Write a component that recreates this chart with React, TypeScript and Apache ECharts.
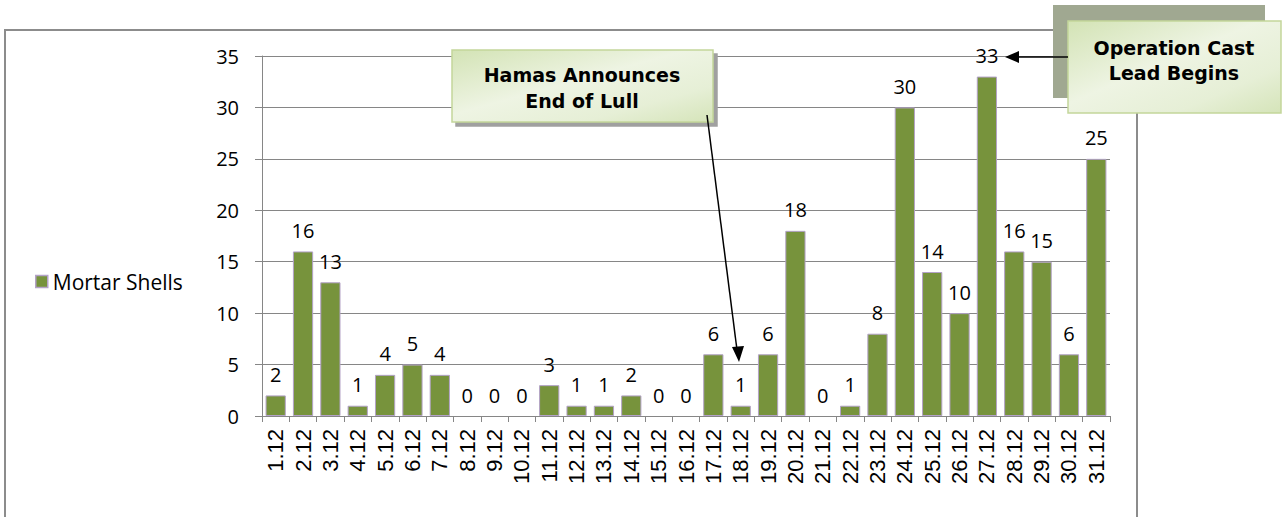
import React, { useEffect, useRef } from "react";
import * as echarts from "echarts";

const categories = ["1.12","2.12","3.12","4.12","5.12","6.12","7.12","8.12","9.12","10.12","11.12","12.12","13.12","14.12","15.12","16.12","17.12","18.12","19.12","20.12","21.12","22.12","23.12","24.12","25.12","26.12","27.12","28.12","29.12","30.12","31.12"];
const mortarShells = [2,16,13,1,4,5,4,0,0,0,3,1,1,2,0,0,6,1,6,18,0,1,8,30,14,10,33,16,15,6,25];
const seriesName = "Mortar Shells";
const callout1 = "Hamas Announces\nEnd of Lull";
const callout2 = "Operation Cast\nLead Begins";

const calloutFill = {
  type: "linear", x: 0, y: 0, x2: 1, y2: 1,
  colorStops: [
    { offset: 0, color: "#D3E3B5" },
    { offset: 0.45, color: "#EEF4E3" },
    { offset: 0.75, color: "#E6EFD6" },
    { offset: 1, color: "#D5E4B9" },
  ],
};

export default function App() {
  const ref = useRef<HTMLDivElement>(null);
  useEffect(() => {
    const chart = echarts.init(ref.current!, null, { renderer: "svg" });
    const textFont = "'Open Sans', sans-serif";
    const calloutFont = "'DejaVu Sans', Verdana, sans-serif";
    const barData = mortarShells.map((v) =>
      v === 0 ? { value: v, itemStyle: { borderWidth: 0, color: "transparent" } } : v
    );
    chart.setOption({
      animation: false,
      backgroundColor: "#ffffff",
      grid: { left: 262, right: 176, top: 56, bottom: 101, containLabel: false },
      legend: {
        orient: "vertical",
        left: 30,
        top: 266,
        itemWidth: 12,
        itemHeight: 12,
        itemGap: 6,
        icon: "rect",
        data: [{ name: seriesName, itemStyle: { borderColor: "#B3A2C7", borderWidth: 1.5 } }],
        textStyle: { fontFamily: textFont, fontSize: 21, color: "#000" },
      },
      xAxis: {
        type: "category",
        data: categories,
        boundaryGap: true,
        axisLine: { lineStyle: { color: "#868686", width: 1 } },
        axisTick: { show: true, alignWithLabel: false, length: 6, lineStyle: { color: "#868686" } },
        axisLabel: {
          rotate: 90,
          interval: 0,
          margin: 13,
          fontFamily: "'Liberation Sans', Arial, sans-serif",
          fontSize: 22,
          color: "#000",
        },
      },
      yAxis: {
        type: "value",
        min: 0,
        max: 35,
        interval: 5,
        axisLine: { show: true, lineStyle: { color: "#868686" } },
        axisTick: { show: true, length: 7, lineStyle: { color: "#868686" } },
        splitLine: { lineStyle: { color: "#868686", width: 1 } },
        axisLabel: { fontFamily: textFont, fontSize: 20, color: "#000", margin: 23 },
      },
      series: [
        {
          name: seriesName,
          type: "bar",
          data: barData,
          barCategoryGap: "26%",
          itemStyle: { color: "#77933C", borderColor: "#B3A2C7", borderWidth: 1 },
          label: {
            show: true,
            position: "top",
            distance: 11,
            fontFamily: textFont,
            fontSize: 20,
            color: "#000",
          },
        },
      ],
      graphic: [
        { type: "rect", silent: true, shape: { x: 5, y: 30, width: 1132, height: 520 }, style: { fill: "none", stroke: "#8C8C8C", lineWidth: 2 }, z: 50 },
        // callout 1
        {
          type: "rect", shape: { x: 452, y: 50, width: 261, height: 72 },
          style: { fill: calloutFill, stroke: "#C3D69B", lineWidth: 1.5, shadowColor: "#A0A0A0", shadowBlur: 0, shadowOffsetX: 4, shadowOffsetY: 4 },
          z: 100,
        },
        {
          type: "text", x: 582, y: 88, z: 101,
          style: { text: callout1, align: "center", verticalAlign: "middle", fontFamily: calloutFont, fontWeight: "bold", fontSize: 19, lineHeight: 26, fill: "#000" },
        },
        { type: "line", shape: { x1: 707, y1: 115, x2: 737, y2: 350 }, style: { stroke: "#000", lineWidth: 1.5 }, z: 102 },
        { type: "polygon", shape: { points: [[739, 362], [732, 347], [744, 346]] }, style: { fill: "#000" }, z: 102 },
        // callout 2
        { type: "rect", shape: { x: 1053, y: 5, width: 212, height: 93 }, style: { fill: "#A0A891" }, z: 99 },
        {
          type: "rect", shape: { x: 1068, y: 21, width: 213, height: 92 },
          style: { fill: calloutFill, stroke: "#C3D69B", lineWidth: 1.5 },
          z: 100,
        },
        {
          type: "text", x: 1174, y: 60, z: 101,
          style: { text: callout2, align: "center", verticalAlign: "middle", fontFamily: calloutFont, fontWeight: "bold", fontSize: 19, lineHeight: 25, fill: "#000" },
        },
        { type: "line", shape: { x1: 1068, y1: 57, x2: 1018, y2: 57 }, style: { stroke: "#000", lineWidth: 1.5 }, z: 102 },
        { type: "polygon", shape: { points: [[1005, 57], [1019, 51], [1019, 63]] }, style: { fill: "#000" }, z: 102 },
      ],
    });
    return () => chart.dispose();
  }, []);
  return <div ref={ref} style={{ position: "fixed", left: 0, top: 0, width: 1286, height: 517 }} />;
}
